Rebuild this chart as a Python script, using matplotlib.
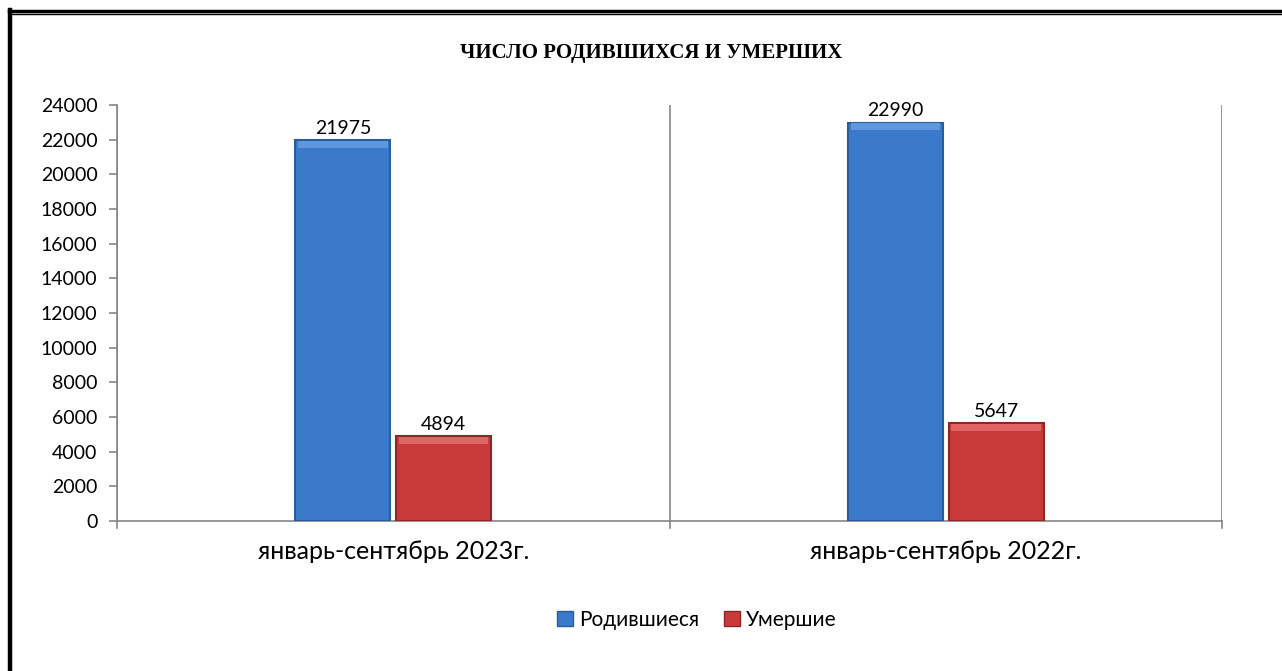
import matplotlib.pyplot as plt
from matplotlib.lines import Line2D
from matplotlib.patches import Patch
import numpy as np

categories = ['январь-сентябрь 2023г.', 'январь-сентябрь 2022г.']
series_names = ['Родившиеся', 'Умершие']
born = [21975, 22990]
died = [4894, 5647]
yticks = list(range(0, 24001, 2000))

plt.rcParams['font.family'] = ['Lato', 'Noto Sans', 'DejaVu Sans']

fig = plt.figure(figsize=(12.82, 6.71), dpi=100)
ax = fig.add_axes([117 / 1282, 1 - 521 / 671, (1222 - 117) / 1282, (521 - 105) / 671])

x = np.arange(len(categories))
w = 0.172
off = 0.091
blue, blue_edge, blue_top = '#3B79CB', '#2A5C9A', '#5E97DE'
red, red_edge, red_top = '#C93A3A', '#8E2626', '#E06464'

b1 = ax.bar(x - off, born, w, color=blue, edgecolor=blue_edge, linewidth=1.5, zorder=3)
b2 = ax.bar(x + off, died, w, color=red, edgecolor=red_edge, linewidth=1.5, zorder=3)

# lighter bevel band on top of each bar
for bars, c in ((b1, blue_top), (b2, red_top)):
    for r in bars:
        ax.bar(r.get_x() + r.get_width() / 2, 430, r.get_width() * 0.94,
               bottom=r.get_height() - 460, color=c, linewidth=0, zorder=4)

for bars, vals in ((b1, born), (b2, died)):
    for r, v in zip(bars, vals):
        ax.text(r.get_x() + r.get_width() / 2, v + 200, str(v),
                ha='center', va='bottom', fontsize=14, zorder=5)

ax.set_xlim(-0.5, 1.5)
ax.set_ylim(0, 24000)
ax.set_yticks(yticks)
ax.set_yticklabels([str(t) for t in yticks], fontsize=14)
ax.set_xticks(x)
ax.set_xticklabels(categories, fontsize=18)
ax.tick_params(axis='x', length=0, pad=14)
ax.tick_params(axis='y', length=6, color='#868686', width=1.2, pad=8)

# category separators and their ticks below the axis
for b in (-0.5, 0.5, 1.5):
    ax.axvline(b, color='#868686', lw=1.2, zorder=1)
    ax.add_line(Line2D([b, b], [0, -0.018], transform=ax.get_xaxis_transform(),
                       color='#868686', lw=1.2, clip_on=False))

for s in ('top', 'right'):
    ax.spines[s].set_visible(False)
for s in ('left', 'bottom'):
    ax.spines[s].set_color('#868686')
    ax.spines[s].set_linewidth(1.2)

fig.text(651 / 1282, 1 - 53 / 671, 'ЧИСЛО РОДИВШИХСЯ И УМЕРШИХ',
         ha='center', va='center', fontsize=15, fontweight='bold',
         family=['Liberation Serif', 'DejaVu Serif'])

handles = [Patch(facecolor=blue, edgecolor=blue_edge), Patch(facecolor=red, edgecolor=red_edge)]
fig.legend(handles, series_names, loc='center', bbox_to_anchor=(697 / 1282, 1 - 620 / 671),
           ncol=2, frameon=False, fontsize=15, handlelength=0.75, handleheight=0.75,
           handletextpad=0.3, columnspacing=1.2)

# page border: double line on top, thick line on the left
fig.add_artist(Line2D([9 / 1282, 1], [1 - 11 / 671] * 2, color='black', lw=2.5))
fig.add_artist(Line2D([9 / 1282, 1], [1 - 14 / 671] * 2, color='black', lw=1.0))
fig.add_artist(Line2D([9.5 / 1282] * 2, [0, 1 - 10 / 671], color='black', lw=3.2))

fig.savefig('out.png', dpi=100)
